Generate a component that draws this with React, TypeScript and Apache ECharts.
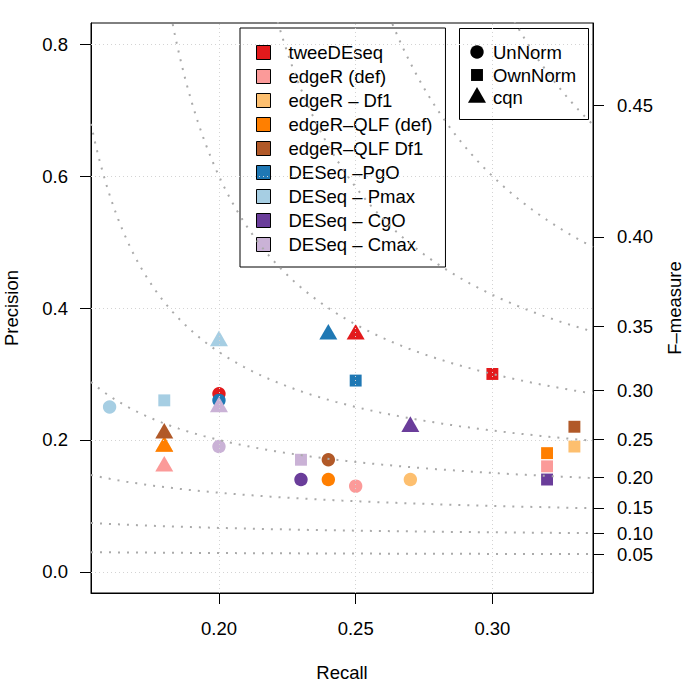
import React, { useEffect, useRef } from "react";
import * as echarts from "echarts";

// ---- Data ----
const methods = [
  "tweeDEseq",
  "edgeR (def)",
  "edgeR – Df1",
  "edgeR–QLF (def)",
  "edgeR–QLF Df1",
  "DESeq –PgO",
  "DESeq – Pmax",
  "DESeq – CgO",
  "DESeq – Cmax",
];
const methodColors = [
  "#E31A1C",
  "#FB9A99",
  "#FDBF6F",
  "#FF7F00",
  "#B15928",
  "#1F78B4",
  "#A6CEE3",
  "#6A3D9A",
  "#CAB2D6",
];
// UnNorm (circles)
const unNormRecall = [0.2, 0.25, 0.27, 0.24, 0.24, 0.2, 0.16, 0.23, 0.2];
const unNormPrecision = [0.27, 0.13, 0.14, 0.14, 0.17, 0.26, 0.25, 0.14, 0.19];
// OwnNorm (squares)
const ownNormRecall = [0.3, 0.32, 0.33, 0.32, 0.33, 0.25, 0.18, 0.32, 0.23];
const ownNormPrecision = [0.3, 0.16, 0.19, 0.18, 0.22, 0.29, 0.26, 0.14, 0.17];
// cqn (triangles)
const cqnRecall = [0.25, 0.18, 0.18, 0.18, 0.18, 0.24, 0.2, 0.27, 0.2];
const cqnPrecision = [0.36, 0.16, 0.19, 0.19, 0.21, 0.36, 0.35, 0.22, 0.25];

const normNames = ["UnNorm", "OwnNorm", "cqn"];
const recallTicks = [0.2, 0.25, 0.3];
const precisionTicks = [0, 0.2, 0.4, 0.6, 0.8];
const fMeasureTicks = [0.05, 0.1, 0.15, 0.2, 0.25, 0.3, 0.35, 0.4, 0.45];
const fMeasureLevels = [0.05, 0.1, 0.15, 0.2, 0.25, 0.3, 0.35, 0.4, 0.45];

const FONT = "Liberation Sans, Arial, sans-serif";
const FS = 18.5;

export default function App() {
  const ref = useRef<HTMLDivElement>(null);

  useEffect(() => {
    if (!ref.current) return;
    const chart = echarts.init(ref.current, undefined, { renderer: "svg" });

    const allR = [...unNormRecall, ...ownNormRecall, ...cqnRecall];
    const xlo = Math.min(...allR);
    const xhi = Math.max(...allR);
    const xExt = (xhi - xlo) * 0.04;
    const xMin = xlo - xExt;
    const xMax = xhi + xExt;
    const ylo = 0;
    const yhi = 0.8;
    const yExt = (yhi - ylo) * 0.04;
    const yMin = ylo - yExt;
    const yMax = yhi + yExt;

    // precision at which an F-measure iso-line meets recall = xhi (right axis)
    const precAt = (f: number, r: number) => (f * r) / (2 * r - f);
    const rightTickPos = fMeasureTicks.map((f) => precAt(f, xhi));
    const fFromP = (p: number) => (2 * p * xhi) / (p + xhi);

    const isoSeries: any[] = fMeasureLevels.map((f, k) => {
      const pts: number[][] = [];
      const n = 240;
      for (let i = 0; i <= n; i++) {
        const r = xMin + ((xMax - xMin) * i) / n;
        if (2 * r - f <= 0.005) continue;
        const p = precAt(f, r);
        if (p > 2.5 || p < 0) continue;
        pts.push([r, p]);
      }
      const s: any = {
        type: "line",
        name: "F=" + f,
        data: pts,
        showSymbol: false,
        symbol: "none",
        silent: true,
        clip: true,
        z: 4,
        lineStyle: { color: "#AAAAAA", width: 2, type: [2, 7] },
      };
      if (k === 0) {
        s.markLine = {
          silent: true,
          symbol: "none",
          label: { show: false },
          lineStyle: { color: "#D3D3D3", type: [1, 3], width: 1 },
          data: [
            ...recallTicks.map((v) => ({ xAxis: v })),
            ...precisionTicks.map((v) => ({ yAxis: v })),
          ],
        };
      }
      return s;
    });

    const R = 6.7;
    const methodSeries = methods.map((m, i) => ({
      type: "scatter",
      name: m,
      z: 3,
      itemStyle: { color: methodColors[i], opacity: 1 },
      data: [
        { value: [unNormRecall[i], unNormPrecision[i]], symbol: "circle", symbolSize: 2 * R },
        { value: [ownNormRecall[i], ownNormPrecision[i]], symbol: "rect", symbolSize: 1.78 * R },
        {
          value: [cqnRecall[i], cqnPrecision[i]],
          symbol: "triangle",
          symbolSize: [2.69 * R, 2.33 * R],
          symbolOffset: [0, -0.39 * R],
        },
      ],
    }));

    const lx = 477;
    const rows = [52, 75, 97.5];
    const legend2: any[] = [
      {
        type: "rect",
        shape: { x: 459.5, y: 28.5, width: 129, height: 91 },
        style: { fill: "none", stroke: "#000", lineWidth: 1 },
      },
      { type: "circle", shape: { cx: lx, cy: rows[0], r: R }, style: { fill: "#000" } },
      {
        type: "rect",
        shape: { x: lx - 0.89 * R, y: rows[1] - 0.89 * R, width: 1.78 * R, height: 1.78 * R },
        style: { fill: "#000" },
      },
      {
        type: "polygon",
        shape: {
          points: [
            [lx, rows[2] - 1.555 * R],
            [lx + 1.347 * R, rows[2] + 0.778 * R],
            [lx - 1.347 * R, rows[2] + 0.778 * R],
          ],
        },
        style: { fill: "#000" },
      },
      ...normNames.map((t, i) => ({
        type: "text",
        x: 493,
        y: rows[i],
        style: {
          text: t,
          fill: "#000",
          font: `${FS}px ${FONT}`,
          verticalAlign: "middle",
        },
      })),
    ];

    const axisLabelBase = { fontSize: FS, color: "#000", fontFamily: FONT };
    const nameStyle = { fontSize: FS, color: "#000", fontFamily: FONT };

    chart.setOption({
      animation: false,
      backgroundColor: "#fff",
      textStyle: { fontFamily: FONT },
      grid: {
        left: 91,
        top: 23,
        right: 92,
        bottom: 92,
        show: true,
        containLabel: false,
        outerBoundsMode: "none",
        borderColor: "#000",
        borderWidth: 1,
        backgroundColor: "transparent",
      },
      xAxis: {
        type: "value",
        min: xMin,
        max: xMax,
        axisLine: { show: true, onZero: false, lineStyle: { color: "#000", width: 1 } },
        axisTick: { show: true, customValues: recallTicks, length: 11, lineStyle: { color: "#000" } },
        axisLabel: { ...axisLabelBase, customValues: recallTicks, margin: 26, formatter: (v: number) => v.toFixed(2) },
        splitLine: { show: false },
        name: "Recall",
        nameLocation: "middle",
        nameGap: 70,
        nameTextStyle: nameStyle,
      },
      yAxis: [
        {
          type: "value",
          min: yMin,
          max: yMax,
          position: "left",
          axisLine: { show: true, onZero: false, lineStyle: { color: "#000", width: 1 } },
          axisTick: { show: true, customValues: precisionTicks, length: 11, lineStyle: { color: "#000" } },
          axisLabel: { ...axisLabelBase, customValues: precisionTicks, margin: 23, formatter: (v: number) => v.toFixed(1) },
          splitLine: { show: false },
          name: "Precision",
          nameLocation: "middle",
          nameRotate: 90,
          nameGap: 70,
          nameTextStyle: nameStyle,
        },
        {
          type: "value",
          min: yMin,
          max: yMax,
          position: "right",
          axisLine: { show: true, onZero: false, lineStyle: { color: "#000", width: 1 } },
          axisTick: { show: true, customValues: rightTickPos, length: 11, lineStyle: { color: "#000" } },
          axisLabel: {
            ...axisLabelBase,
            customValues: rightTickPos,
            margin: 24,
            formatter: (v: number) => fFromP(v).toFixed(2),
          },
          splitLine: { show: false },
          name: "F–measure",
          nameLocation: "middle",
          nameRotate: 90,
          nameGap: 72,
          nameTextStyle: nameStyle,
        },
      ],
      legend: {
        data: methods,
        orient: "vertical",
        left: 240,
        top: 28,
        padding: [15, 13, 13, 16],
        borderColor: "#000",
        borderWidth: 1,
        borderRadius: 0,
        backgroundColor: "transparent",
        icon: "rect",
        itemWidth: 14,
        itemHeight: 14,
        itemGap: 5,
        itemStyle: { borderColor: "#000", borderWidth: 1 },
        selectedMode: false,
        textStyle: { fontSize: FS, color: "#000", fontFamily: FONT, lineHeight: 18, padding: [0, 0, 0, 13] },
      },
      graphic: legend2,
      series: [...isoSeries, ...methodSeries],
    });

    return () => chart.dispose();
  }, []);

  return (
    <div
      ref={ref}
      style={{ position: "fixed", left: 0, top: 0, width: 685, height: 685, background: "#fff" }}
    />
  );
}
